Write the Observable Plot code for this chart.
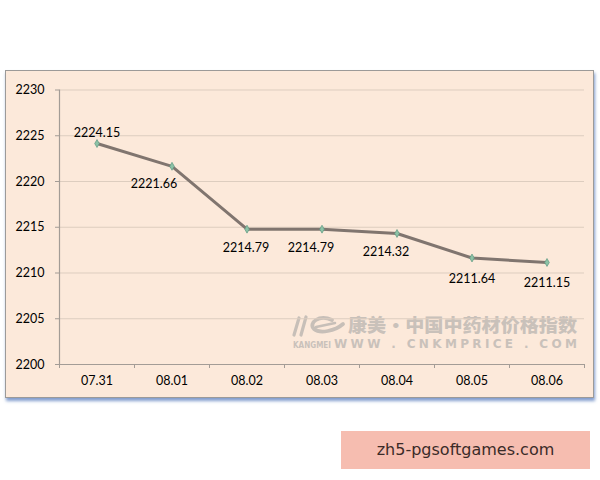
<!DOCTYPE html>
<html>
<head>
<meta charset="utf-8">
<script src="https://cdn.jsdelivr.net/npm/d3@7"></script>
<script src="https://cdn.jsdelivr.net/npm/@observablehq/plot@0.6"></script>
<style>
  html, body { margin: 0; padding: 0; background: #fff; }
  #wrap { position: relative; width: 600px; height: 480px; overflow: hidden; font-family: Lato, "Open Sans", sans-serif; }
  #box { position: absolute; left: 5px; top: 70px; width: 587px; height: 326px; background: #fce9da; border: 1px solid #9c9a98; box-shadow: 1px 3px 3px rgba(90,125,190,0.75); }
  #chart { position: absolute; left: 0; top: 0; }
  #wm { position: absolute; left: 290px; top: 312px; }
  #tag { position: absolute; left: 341px; top: 431px; width: 249px; height: 38px; background: #f6bdb0; color: #3b2b28; font-family: "DejaVu Sans", sans-serif; font-size: 16px; line-height: 38px; text-align: center; }
</style>
</head>
<body>
<div id="wrap">
  <div id="box"></div>
  <svg id="wm" width="300" height="40" viewBox="0 0 300 40">
    <g fill="none" stroke="#c7bfb8" stroke-linecap="round">
      <path d="M9 6 L4 23" stroke-width="3.2"/>
      <path d="M16 5 L11 23" stroke-width="3.2"/>
      <path d="M42 8 C29 2 18 11 24 17 C30 22 45 19 53 12" stroke-width="3.8"/>
      <path d="M26 15 L45 11" stroke-width="2.6"/>
    </g>
    <text x="58" y="20" textLength="229" lengthAdjust="spacingAndGlyphs" font-family="'Noto Sans CJK SC', sans-serif" font-weight="900" font-size="18" fill="#c9c1ba">康美·中国中药材价格指数</text>
    <text x="3" y="36" textLength="38" lengthAdjust="spacingAndGlyphs" font-family="'DejaVu Sans', sans-serif" font-weight="bold" font-size="8.5" fill="#c9c1ba">KANGMEI</text>
    <text x="44" y="36" textLength="243" lengthAdjust="spacing" font-family="'DejaVu Sans', sans-serif" font-weight="bold" font-size="12" fill="#c9c1ba">WWW . CNKMPRICE . COM</text>
  </svg>
  <div id="chart"></div>
  <div id="tag">zh5-pgsoftgames.com</div>
</div>
<script>
const dates = ["07.31", "08.01", "08.02", "08.03", "08.04", "08.05", "08.06"];
const values = [2224.15, 2221.66, 2214.79, 2214.79, 2214.32, 2211.64, 2211.15];
const yTicks = [2200, 2205, 2210, 2215, 2220, 2225, 2230];

const idx = d3.range(dates.length);
const rows = idx.map(i => ({i, date: dates[i], value: values[i]}));
const boundaries = d3.range(-0.5, dates.length, 1);

const font = "Lato, 'Open Sans', sans-serif";
const chart = Plot.plot({
  width: 600,
  height: 480,
  marginLeft: 59,
  marginRight: 16,
  marginTop: 89.5,
  marginBottom: 116,
  style: {background: "transparent", fontFamily: font, fontSize: "12.5px", color: "#000"},
  x: {type: "linear", domain: [-0.5, dates.length - 0.5]},
  y: {domain: [2200, 2230]},
  marks: [
    Plot.ruleY(yTicks.slice(1), {stroke: "#ddcdbf", strokeWidth: 1}),
    Plot.ruleY([2200], {stroke: "#a39c96", strokeWidth: 1.2}),
    Plot.ruleX([-0.5], {stroke: "#a39c96", strokeWidth: 1.2}),
    Plot.axisY({ticks: yTicks, tickSize: 4, tickPadding: 11, tickFormat: d => String(d), stroke: "#a39c96", fill: "#000", label: null}),
    Plot.axisX({ticks: boundaries, tickSize: 4, tickFormat: () => "", stroke: "#a39c96", label: null}),
    Plot.axisX({ticks: idx, tickSize: 0, tickPadding: 12, tickFormat: i => dates[i], fill: "#000", label: null}),
    Plot.line(rows, {x: "i", y: "value", stroke: "#80756f", strokeWidth: 3}),
    Plot.dot(rows, {x: "i", y: "value", symbol: "diamond", r: 2.4, fill: "#8dc2a6", stroke: "#5f9a82", strokeWidth: 0.7}),
    Plot.text(rows.filter(d => d.i === 0), {x: "i", y: "value", text: d => d.value.toFixed(2), dy: -11, fill: "#000"}),
    Plot.text(rows.filter(d => d.i === 1), {x: "i", y: "value", text: d => d.value.toFixed(2), dy: 18, dx: -18, fill: "#000"}),
    Plot.text(rows.filter(d => d.i === 3 || d.i === 4), {x: "i", y: "value", text: d => d.value.toFixed(2), dy: 18.5, dx: -11, fill: "#000"}),
    Plot.text(rows.filter(d => d.i === 2), {x: "i", y: "value", text: d => d.value.toFixed(2), dy: 18.5, dx: -1, fill: "#000"}),
    Plot.text(rows.filter(d => d.i >= 5), {x: "i", y: "value", text: d => d.value.toFixed(2), dy: 21, fill: "#000"})
  ]
});
document.getElementById("chart").appendChild(chart);
</script>
</body>
</html>
